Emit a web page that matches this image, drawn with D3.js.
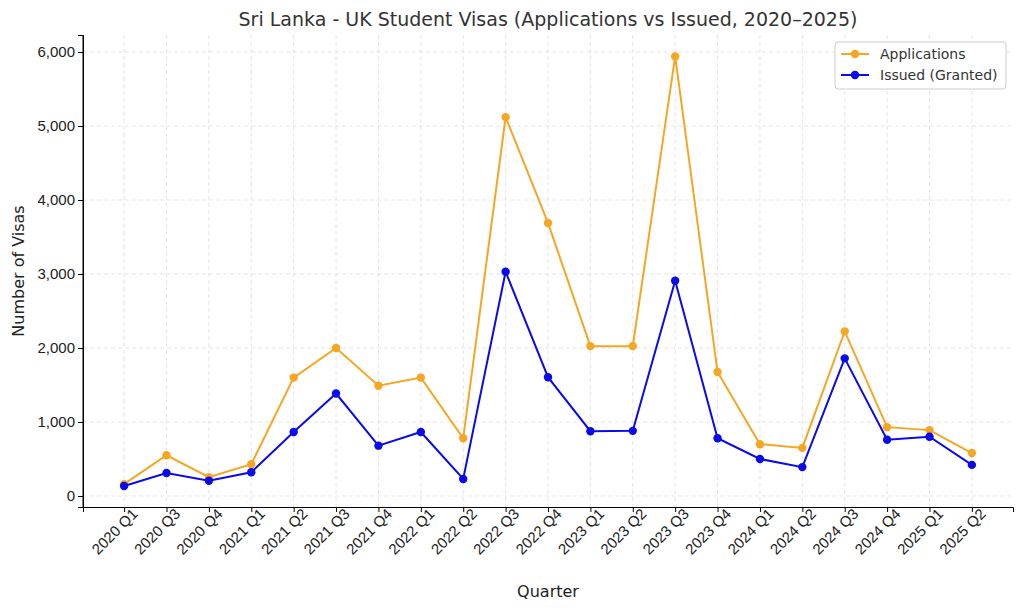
<!DOCTYPE html>
<html><head><meta charset="utf-8">
<script src="https://cdn.jsdelivr.net/npm/d3@7"></script>
<style>body{margin:0;background:#fff;font-family:"DejaVu Sans",sans-serif}</style>
</head><body><svg id="c" width="1024" height="610"></svg>
<script>
const quarters=["2020 Q1","2020 Q3","2020 Q4","2021 Q1","2021 Q2","2021 Q3","2021 Q4","2022 Q1","2022 Q2","2022 Q3","2022 Q4","2023 Q1","2023 Q2","2023 Q3","2023 Q4","2024 Q1","2024 Q2","2024 Q3","2024 Q4","2025 Q1","2025 Q2"];
const applications=[160,550,255,430,1600,2000,1490,1600,780,5120,3690,2025,2025,5940,1675,700,650,2225,930,890,580];
const issued=[135,310,205,320,865,1385,680,865,230,3030,1605,875,880,2910,780,500,390,1860,760,800,420];
const yTicks=[0,1000,2000,3000,4000,5000,6000];

const svg=d3.select("#c");
const L=83,R=1013,T=35,B=507;
const x=d3.scalePoint().domain(quarters).range([L,R]).padding(0.97);
const y=d3.scaleLinear().domain([-149,6230]).range([B,T]);
const g=svg.append("g");
// grid
g.selectAll(".vg").data(quarters).enter().append("line").attr("x1",d=>x(d)).attr("x2",d=>x(d)).attr("y1",T).attr("y2",B).attr("stroke","#ddd").attr("stroke-dasharray","4,3").attr("stroke-width",0.8);
g.selectAll(".hg").data(yTicks).enter().append("line").attr("x1",L).attr("x2",R).attr("y1",d=>y(d)).attr("y2",d=>y(d)).attr("stroke","#ddd").attr("stroke-dasharray","4,3").attr("stroke-width",0.8);
// axes
const xa=svg.append("g").attr("transform",`translate(0,${B})`).call(d3.axisBottom(x).tickSizeOuter(0).tickSize(5));
xa.select(".domain").attr("stroke","#000");
xa.selectAll("text").attr("font-size",15).attr("fill","#222").attr("text-anchor","end").attr("dx","0.3em").attr("dy","0.5em").attr("transform","rotate(-45)");
const ya=svg.append("g").attr("transform",`translate(${L},0)`).call(d3.axisLeft(y).tickValues(yTicks).tickSizeOuter(0).tickSize(5));
ya.selectAll("text").attr("font-size",15).attr("fill","#222");
svg.append("line").attr("x1",L).attr("x2",L).attr("y1",T).attr("y2",B).attr("stroke","#000");
// lines
function series(vals,color){
  const line=d3.line().x((d,i)=>x(quarters[i])).y(d=>y(d));
  svg.append("path").datum(vals).attr("d",line).attr("fill","none").attr("stroke",color).attr("stroke-width",2);
  svg.selectAll(null).data(vals).enter().append("circle").attr("cx",(d,i)=>x(quarters[i])).attr("cy",d=>y(d)).attr("r",4.2).attr("fill",color);
}
series(applications,"#f5a623");
series(issued,"#0a0aeb");
// titles
svg.append("text").attr("x",548).attr("y",26).attr("text-anchor","middle").attr("font-size",19).attr("fill","#333").text("Sri Lanka - UK Student Visas (Applications vs Issued, 2020–2025)");
svg.append("text").attr("x",548).attr("y",597).attr("text-anchor","middle").attr("font-size",16).attr("fill","#222").text("Quarter");
svg.append("text").attr("transform","translate(24,271) rotate(-90)").attr("text-anchor","middle").attr("font-size",16).attr("fill","#222").text("Number of Visas");
// legend
const lg=svg.append("g").attr("transform","translate(835,42)");
lg.append("rect").attr("width",171).attr("height",47).attr("rx",3).attr("fill","#fff").attr("stroke","#ccc");
[["Applications","#f5a623"],["Issued (Granted)","#0a0aeb"]].forEach(([t,c],i)=>{
  const yy=12+i*21;
  lg.append("line").attr("x1",6).attr("x2",34).attr("y1",yy).attr("y2",yy).attr("stroke",c).attr("stroke-width",2);
  lg.append("circle").attr("cx",20).attr("cy",yy).attr("r",4.2).attr("fill",c);
  lg.append("text").attr("x",45).attr("y",yy+5).attr("font-size",14).attr("fill","#333").text(t);
});
</script></body></html>
